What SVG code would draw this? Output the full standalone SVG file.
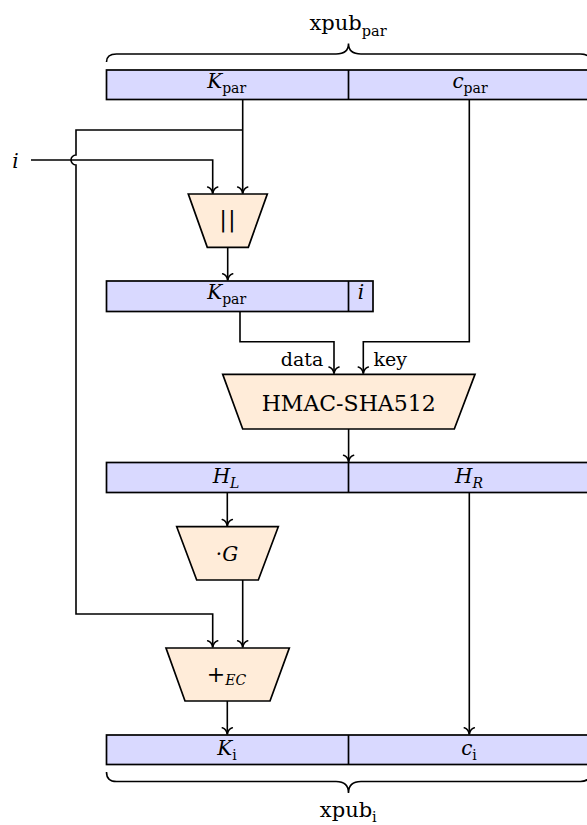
<svg xmlns="http://www.w3.org/2000/svg" width="587" height="825" viewBox="0 0 587 825">
  <style>
    .bar { fill: #d9d9ff; stroke: #000; stroke-width: 1.7; }
    .op { fill: #ffecd9; stroke: #000; stroke-width: 1.7; stroke-linejoin: miter; }
    .wire { fill: none; stroke: #000; stroke-width: 1.6; }
    .sep { stroke: #000; stroke-width: 1.7; }
    .arr { marker-end: url(#tip); }
    .brace { fill: none; stroke: #000; stroke-width: 1.6; }
    text { font-family: "DejaVu Serif", "Liberation Serif", serif; fill: #000; }
    .lbl { font-size: 20px; text-anchor: middle; }
    .it { font-style: italic; }
    .sub { font-size: 14px; }
  </style>
  <defs>
    <marker id="tip" markerUnits="userSpaceOnUse" markerWidth="16" markerHeight="16" viewBox="-9 -8 11 16" refX="0" refY="0" orient="auto" overflow="visible">
      <path d="M -6.5,-5 C -5.6,-2 -2.7,-0.45 0,0 C -2.7,0.45 -5.6,2 -6.5,5" fill="none" stroke="#000" stroke-width="1.6" stroke-linecap="round"/>
    </marker>
  </defs>

  <!-- braces -->
  <g id="brace-top">
    <path class="brace" d="M106.5,62 Q106.5,54 116.5,54 H336 Q348.5,54 348.5,43.5 Q348.5,54 361,54 H580.5 Q590.5,54 590.5,62"/>
    <text x="348" y="30" style="font-size:21px;text-anchor:middle">xpub<tspan class="sub" style="font-size:14.5px" dy="6">par</tspan></text>
  </g>
  <g id="brace-bottom">
    <path class="brace" d="M106.5,772 Q106.5,781.5 116.5,781.5 H336 Q348.5,781.5 348.5,793 Q348.5,781.5 361,781.5 H580.5 Q590.5,781.5 590.5,772"/>
    <text x="348.3" y="817.3" style="font-size:21px;text-anchor:middle">xpub<tspan class="sub" style="font-size:14.5px" dy="4.5">i</tspan></text>
  </g>

  <!-- connectors -->
  <g id="connectors">
    <path class="wire arr" d="M31,160 H212.7 V193.5"/>
    <path class="wire arr" d="M242.7,99.5 V193.5"/>
    <path class="wire arr" d="M242.7,130 H76 V155 A5,5 0 0 0 76,165 V614 H212.7 V647.3"/>
    <path class="wire arr" d="M227.7,247.3 V280.3"/>
    <path class="wire arr" d="M240,311.5 V341.7 H334 V373.6"/>
    <path class="wire arr" d="M469.3,99.5 V341.7 H363.3 V373.6"/>
    <path class="wire arr" d="M348.6,429 V461.8"/>
    <path class="wire arr" d="M227.3,492.5 V526"/>
    <path class="wire arr" d="M242.7,580 V647.3"/>
    <path class="wire arr" d="M227.3,701 V734.3"/>
    <path class="wire arr" d="M469.3,492.5 V734.3"/>
  </g>

  <!-- input index -->
  <g id="in-i">
    <text class="lbl it" x="15.5" y="168">i</text>
  </g>

  <!-- xpub_par register -->
  <g id="xpub-par">
    <rect class="bar" x="106.5" y="70" width="484" height="29.5"/>
    <line class="sep" x1="348.5" y1="70" x2="348.5" y2="99.5"/>
    <text class="lbl" x="226.7" y="88.3"><tspan class="it">K</tspan><tspan class="sub" dy="5">par</tspan></text>
    <text class="lbl" x="470" y="88.3"><tspan class="it">c</tspan><tspan class="sub" dy="5">par</tspan></text>
  </g>

  <!-- concatenation -->
  <g id="concat">
    <polygon class="op" points="188.3,194 267.3,194 248.3,247.3 207.3,247.3"/>
    <text x="228" y="227" style="font-size:23px;text-anchor:middle;letter-spacing:1px">||</text>
  </g>

  <!-- K_par || i -->
  <g id="kpar-i">
    <rect class="bar" x="106.5" y="281" width="266.5" height="30.5"/>
    <line class="sep" x1="348.5" y1="281" x2="348.5" y2="311.5"/>
    <text class="lbl" x="226.7" y="299"><tspan class="it">K</tspan><tspan class="sub" dy="5">par</tspan></text>
    <text class="lbl it" x="361" y="299">i</text>
  </g>

  <!-- HMAC -->
  <g id="hmac">
    <polygon class="op" points="222.7,374.3 475,374.3 454.3,429 242.7,429"/>
    <text x="348.7" y="411" style="font-size:22px;text-anchor:middle">HMAC-SHA512</text>
    <text x="323.3" y="366" style="font-size:19px;text-anchor:end">data</text>
    <text x="373.5" y="366" style="font-size:19px">key</text>
  </g>

  <!-- H_L | H_R -->
  <g id="hash-out">
    <rect class="bar" x="106.5" y="462.5" width="484" height="30"/>
    <line class="sep" x1="348.5" y1="462.5" x2="348.5" y2="492.5"/>
    <text class="lbl" x="226" y="483.3"><tspan class="it">H</tspan><tspan class="sub it" dy="5">L</tspan></text>
    <text class="lbl" x="469" y="483.3"><tspan class="it">H</tspan><tspan class="sub it" dy="5">R</tspan></text>
  </g>

  <!-- point multiplication -->
  <g id="mul-g">
    <polygon class="op" points="176.7,526.7 278.3,526.7 258.3,580 196.7,580"/>
    <text class="lbl" x="227" y="561">·<tspan class="it">G</tspan></text>
  </g>

  <!-- point addition -->
  <g id="add-ec">
    <polygon class="op" points="166,648 289.3,648 270,701 185,701"/>
    <text class="lbl" x="226.5" y="682"><tspan style="font-size:22px">+</tspan><tspan class="sub it" dy="3">EC</tspan></text>
  </g>

  <!-- xpub_i register -->
  <g id="xpub-i">
    <rect class="bar" x="106.5" y="735" width="484" height="29.5"/>
    <line class="sep" x1="348.5" y1="735" x2="348.5" y2="764.5"/>
    <text class="lbl" x="227" y="755"><tspan class="it">K</tspan><tspan class="sub" dy="5">i</tspan></text>
    <text class="lbl" x="469" y="755"><tspan class="it">c</tspan><tspan class="sub" dy="5">i</tspan></text>
  </g>
</svg>
